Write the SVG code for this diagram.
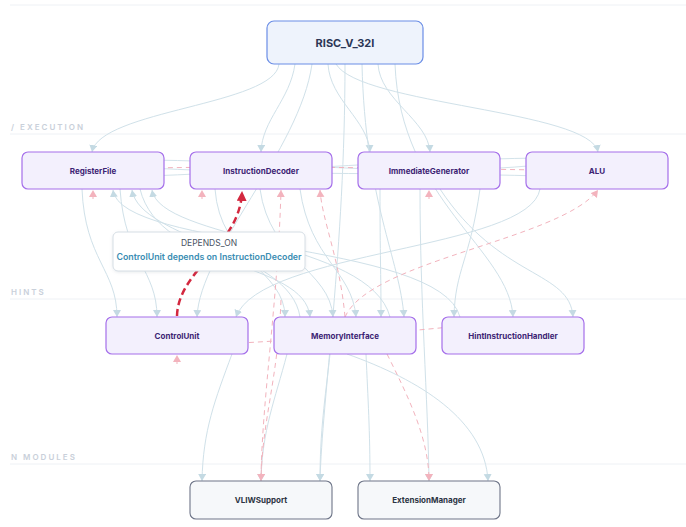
<svg xmlns="http://www.w3.org/2000/svg" width="686" height="527" viewBox="0 0 686 527">
<defs>
<style>
.lane{stroke:#eef1f5;stroke-width:1}
.lanet{font-family:Inter,"Liberation Sans",sans-serif;font-size:8px;font-weight:600;letter-spacing:2px;fill:#c9d0da}
.e{fill:none;stroke:#d0e1e9;stroke-width:1;marker-end:url(#ab)}
.h{fill:none;stroke:#d3e3ea;stroke-width:1}
.p{fill:none;stroke:#f2b3bd;stroke-width:1;stroke-dasharray:5 4;marker-end:url(#ap)}
.ps{fill:none;stroke:#f2b3bd;stroke-width:1;stroke-dasharray:5 4}
.n rect{fill:#f3f0fd;stroke:#a56fea;stroke-width:1.2}
.n text{font-family:Inter,"Liberation Sans",sans-serif;font-size:8px;font-weight:700;fill:#3d2474;text-anchor:middle}
.m rect{fill:#f6f8fa;stroke:#6e7588;stroke-width:1.1}
.m text{font-family:Inter,"Liberation Sans",sans-serif;font-size:8px;font-weight:700;fill:#2c3443;text-anchor:middle}
</style>
<marker id="ab" markerUnits="userSpaceOnUse" markerWidth="9" markerHeight="9" refX="7" refY="4" orient="auto"><path d="M0,0 L7,4 L0,8 z" fill="#c4dae3"/></marker>
<marker id="ap" markerUnits="userSpaceOnUse" markerWidth="9" markerHeight="9" refX="7" refY="4" orient="auto"><path d="M0,0 L7,4 L0,8 z" fill="#f3b3bd"/></marker>
<marker id="ar" markerUnits="userSpaceOnUse" markerWidth="11" markerHeight="11" refX="9" refY="5" orient="auto"><path d="M0,0 L10,5 L0,10 z" fill="#d3283f"/></marker>
<filter id="sh" x="-10%" y="-20%" width="120%" height="150%"><feDropShadow dx="0" dy="1" stdDeviation="1.5" flood-color="#8090a0" flood-opacity="0.18"/></filter>
</defs>
<rect width="686" height="527" fill="#ffffff"/>
<g id="lanes">
<line class="lane" x1="10" y1="5" x2="686" y2="5"/>
<line class="lane" x1="10" y1="134" x2="686" y2="134"/>
<line class="lane" x1="10" y1="299" x2="686" y2="299"/>
<line class="lane" x1="10" y1="464" x2="686" y2="464"/>
<text class="lanet" x="11" y="130">/ EXECUTION</text>
<text class="lanet" x="11" y="295">HINTS</text>
<text class="lanet" x="11" y="460">N MODULES</text>
</g>
<g id="connectors">
<path class="e" d="M279,64 C275,105 100,110 92,152"/>
<path class="e" d="M295,64 C290,100 262,120 261,152"/>
<path class="e" d="M312,64 C300,150 200,250 197,317"/>
<path class="e" d="M328,64 C330,100 368,120 370,152"/>
<path class="e" d="M345,64 C345,250 322,400 320,481"/>
<path class="e" d="M362,64 C365,200 400,260 404,317"/>
<path class="e" d="M378,64 C380,100 428,120 430,152"/>
<path class="e" d="M395,64 C400,200 510,250 513,317"/>
<path class="e" d="M336,64 C360,105 590,110 598,152"/>
<path class="h" d="M150,160 C300,162 400,178 540,165"/>
<path class="h" d="M150,176 C300,170 400,160 540,158"/>
<path class="h" d="M150,168 C300,176 400,172 540,176"/>
<path class="e" d="M82,189 C85,260 117,270 117,317"/>
<path class="e" d="M120,189 C125,260 157,270 157,317"/>
<path class="e" d="M540,189 C530,250 260,250 236,317"/>
<path class="e" d="M215,189 C220,260 285,270 285,317"/>
<path class="e" d="M140,189 C160,270 305,260 310,317"/>
<path class="e" d="M260,189 C270,260 330,270 333,317"/>
<path class="e" d="M300,189 C310,260 352,270 356,317"/>
<path class="e" d="M380,189 C380,260 381,270 381,317"/>
<path class="e" d="M480,189 C470,260 455,270 454,317"/>
<path class="e" d="M440,189 C500,280 570,270 573,317"/>
<path class="e" d="M460,317 C440,240 120,250 113,190"/>
<path class="e" d="M300,317 C290,250 140,240 132,190"/>
<path class="e" d="M390,317 C370,240 160,240 152,190"/>
<path class="e" d="M232,354 C215,400 203,430 202,481"/>
<path class="e" d="M287,354 C275,400 262,430 261,481"/>
<path class="e" d="M330,354 C325,400 320,430 320,481"/>
<path class="e" d="M366,354 C368,400 370,430 370,481"/>
<path class="e" d="M420,189 C420,300 428,400 429,481"/>
<path class="e" d="M347,354 C420,380 485,420 488,481"/>
<path class="ps" d="M150,168 C250,166 420,168 540,170"/>
<path class="ps" d="M240,343 C300,340 400,332 450,327"/>
<path class="p" d="M261,478 C262,400 278,300 281,190"/>
<path class="p" d="M281,300 C278,380 262,420 261,481"/>
<path class="p" d="M345,317 C340,260 322,220 320,190"/>
<path class="p" d="M387,354 C410,400 429,440 429,481"/>
<path class="p" d="M345,317 C370,260 560,240 598,190"/>
<path class="p" d="M93,199 L93,190"/>
<path class="p" d="M202,199 L202,190"/>
<path class="p" d="M429,199 L429,190"/>
<path class="p" d="M177,364 L177,355"/>
<path d="M177,316 C178,270 240,245 242,192" fill="none" stroke="#d3283f" stroke-width="2.5" stroke-dasharray="7 4" marker-end="url(#ar)"/>
</g>
<g id="RISC_V_32I">
<rect x="267" y="21" width="156" height="43" rx="7" fill="#eef3fc" stroke="#6b8ee6" stroke-width="1.2"/>
<text x="345" y="46.5" font-family="Inter,'Liberation Sans',sans-serif" font-size="11" font-weight="700" fill="#2b3656" text-anchor="middle">RISC_V_32I</text>
</g>
<g id="RegisterFile" class="n"><rect x="22" y="152" width="142" height="37" rx="6"/><text x="93" y="173.5">RegisterFile</text></g>
<g id="InstructionDecoder" class="n"><rect x="190" y="152" width="142" height="37" rx="6"/><text x="261" y="173.5">InstructionDecoder</text></g>
<g id="ImmediateGenerator" class="n"><rect x="358" y="152" width="142" height="37" rx="6"/><text x="429" y="173.5">ImmediateGenerator</text></g>
<g id="ALU" class="n"><rect x="526" y="152" width="142" height="37" rx="6"/><text x="597" y="173.5">ALU</text></g>
<g id="ControlUnit" class="n"><rect x="106" y="317" width="142" height="37" rx="6"/><text x="177" y="338.5">ControlUnit</text></g>
<g id="MemoryInterface" class="n"><rect x="274" y="317" width="142" height="37" rx="6"/><text x="345" y="338.5">MemoryInterface</text></g>
<g id="HintInstructionHandler" class="n"><rect x="442" y="317" width="142" height="37" rx="6"/><text x="513" y="338.5">HintInstructionHandler</text></g>
<g id="VLIWSupport" class="m"><rect x="190" y="481" width="142" height="38" rx="6"/><text x="261" y="503">VLIWSupport</text></g>
<g id="ExtensionManager" class="m"><rect x="358" y="481" width="142" height="38" rx="6"/><text x="429" y="503">ExtensionManager</text></g>
<g id="tooltip">
<rect x="113" y="232" width="192" height="39" rx="5" fill="#ffffff" stroke="#d6dee5" stroke-width="1" filter="url(#sh)"/>
<text x="209" y="245.5" font-family="Inter,'Liberation Sans',sans-serif" font-size="8.5" fill="#4a5263" text-anchor="middle">DEPENDS_ON</text>
<text x="209" y="259.5" font-family="Inter,'Liberation Sans',sans-serif" font-size="8.8" font-weight="600" fill="#3a8db3" text-anchor="middle">ControlUnit depends on InstructionDecoder</text>
</g>
</svg>
